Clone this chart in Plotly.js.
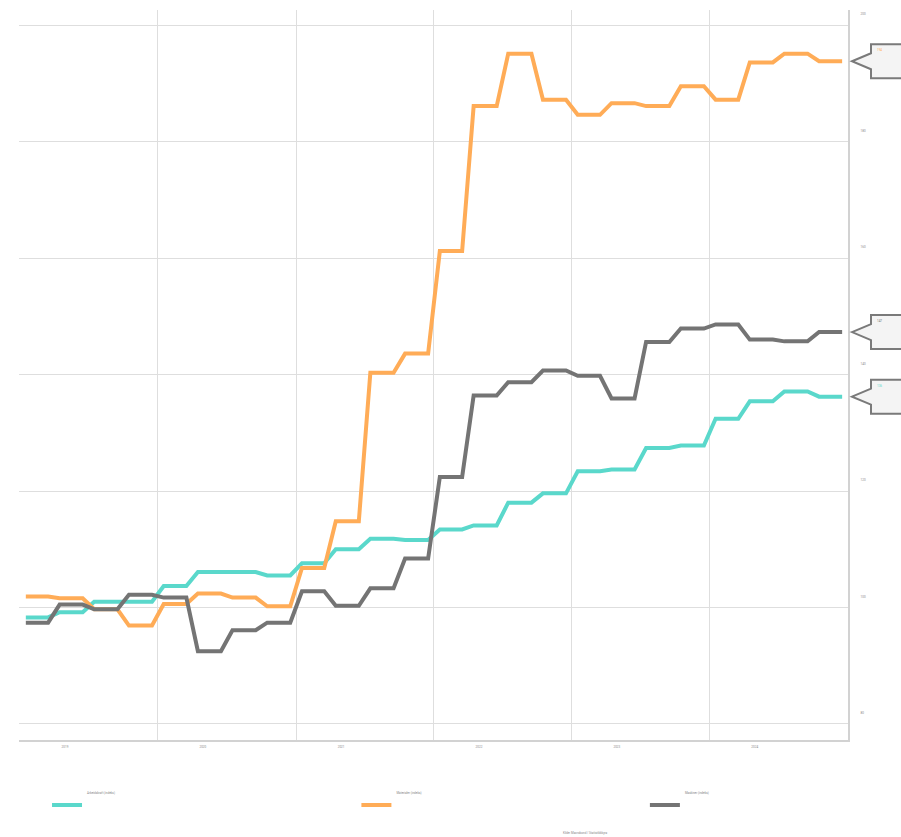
<!DOCTYPE html>
<html>
<head>
<meta charset="utf-8">
<script src="https://cdn.plot.ly/plotly-3.0.1.min.js"></script>
<style>html,body{margin:0;padding:0;background:#fff;}#chart{width:901px;height:837px;}</style>
</head>
<body>
<div id="chart"></div>
<script>
// Quarterly data (each quarter shown as three monthly points)
const quarters = ['2019Q1','2019Q2','2019Q3','2019Q4','2020Q1','2020Q2','2020Q3','2020Q4',
  '2021Q1','2021Q2','2021Q3','2021Q4','2022Q1','2022Q2','2022Q3','2022Q4',
  '2023Q1','2023Q2','2023Q3','2023Q4','2024Q1','2024Q2','2024Q3','2024Q4'];
const seriesNames = ['Arbeidskraft (indeks)', 'Materialer (indeks)', 'Maskiner (indeks)'];
const tealValues = [98.3, 99.2, 101.0, 101.0, 103.7, 106.1, 106.1, 105.5, 107.6, 110.0, 111.8, 111.6,
  113.4, 114.1, 118.0, 119.6, 123.4, 123.7, 127.4, 127.8, 132.4, 135.4, 137.1, 136.2];
const orangeValues = [101.9, 101.6, 99.7, 96.9, 100.6, 102.4, 101.7, 100.2, 106.8, 114.8, 140.3, 143.6,
  161.2, 186.1, 195.1, 187.2, 184.6, 186.6, 186.1, 189.5, 187.2, 193.6, 195.1, 193.8];
const grayValues = [97.4, 100.5, 99.7, 102.2, 101.7, 92.5, 96.1, 97.4, 102.8, 100.3, 103.3, 108.4,
  122.4, 136.4, 138.7, 140.7, 139.8, 135.9, 145.6, 147.9, 148.6, 146.0, 145.7, 147.3];
const yearTicks = ['2019', '2020', '2021', '2022', '2023', '2024'];
const yTicks = [80, 100, 120, 140, 160, 180, 200];
const sourceText = 'Kilde: Macrobond / Statistikkbyrå';

const colors = ['#5ad8cb', '#ffac57', '#747474'];

function expand(values) {
  const x = [], y = [];
  quarters.forEach((q, i) => {
    const yr = q.slice(0, 4), qn = +q[5];
    for (let m = 0; m < 3; m++) {
      const mm = String((qn - 1) * 3 + m + 1).padStart(2, '0');
      x.push(yr + '-' + mm + '-01');
      y.push(values[i]);
    }
  });
  return {x, y};
}

const allValues = [tealValues, orangeValues, grayValues];
const legendX = [0.0338, 0.407, 0.755];
const traces = allValues.map((vals, i) => {
  const d = expand(vals);
  return {
    type: 'scatter', mode: 'lines', x: d.x, y: d.y, name: seriesNames[i] + '<br> <br> <br> ',
    xperiod: 'M1', xperiodalignment: 'middle',
    line: {color: colors[i], width: 4},
    legend: i === 0 ? 'legend' : 'legend' + (i + 1),
    hoverinfo: 'x+y'
  };
});

const shapes = [], annotations = [];
allValues.forEach((vals, i) => {
  const last = vals[vals.length - 1];
  shapes.push({
    type: 'path', xref: 'paper', yref: 'y', xsizemode: 'pixel', ysizemode: 'pixel',
    xanchor: 1, yanchor: last,
    path: 'M4,0 L23,8 L23,17 L70,17 L70,-17 L23,-17 L23,-8 Z',
    fillcolor: '#f4f4f4', line: {color: '#7a7a7a', width: 2}, layer: 'above'
  });
  annotations.push({
    xref: 'paper', yref: 'y', x: 1, y: last, xshift: 27, yshift: 11,
    xanchor: 'left', yanchor: 'middle', showarrow: false,
    text: last.toFixed(0), font: {size: 3, color: colors[i], family: 'Roboto'}
  });
});
annotations.push({
  xref: 'paper', yref: 'paper', x: 0.6836, y: -0.128, xanchor: 'center', yanchor: 'middle',
  showarrow: false, text: sourceText, font: {size: 3, color: '#888', family: 'Roboto'}
});

function legendCfg(x) {
  return {x: x, y: -0.061, xanchor: 'left', yanchor: 'top', orientation: 'h',
    bgcolor: 'rgba(0,0,0,0)', valign: 'bottom',
    font: {size: 3, color: '#888', family: 'Roboto'}};
}

const layout = {
  width: 901, height: 837,
  margin: {l: 19, r: 53, t: 10, b: 97},
  paper_bgcolor: '#fff', plot_bgcolor: '#fff',
  showlegend: true,
  legend: legendCfg(legendX[0]),
  legend2: legendCfg(legendX[1]),
  legend3: legendCfg(legendX[2]),
  xaxis: {
    type: 'date', range: ['2018-12-29 10:00', '2025-01-01'],
    tickvals: yearTicks.map(y => y + '-01-01'), ticktext: yearTicks,
    showgrid: true, gridcolor: '#dedede', gridwidth: 1,
    showline: true, linecolor: '#d2d2d2', linewidth: 2,
    ticks: '', ticklabelshift: 45, ticklabelstandoff: 2,
    tickfont: {size: 3, color: '#888', family: 'Roboto'}, zeroline: false
  },
  yaxis: {
    side: 'right', range: [77.25, 202.6],
    tickvals: yTicks, ticktext: yTicks.map(String),
    showgrid: true, gridcolor: '#dedede', gridwidth: 1,
    showline: true, linecolor: '#d2d2d2', linewidth: 2,
    ticks: '', ticklabelshift: -11, ticklabelstandoff: 10,
    tickfont: {size: 3, color: '#888', family: 'Roboto'}, zeroline: false
  },
  shapes: shapes,
  annotations: annotations
};

Plotly.newPlot('chart', traces, layout, {displayModeBar: false, staticPlot: true});
</script>
</body>
</html>
